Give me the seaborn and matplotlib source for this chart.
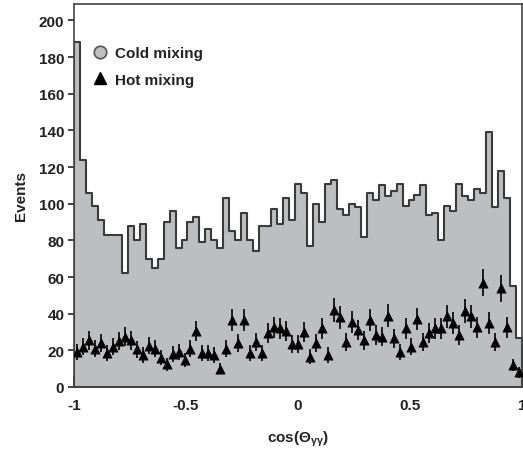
import numpy as np
import pandas as pd
import matplotlib
matplotlib.use("Agg")
import matplotlib.pyplot as plt
import seaborn as sns
from matplotlib.lines import Line2D

# ---- data ----
x_range = (-1.0, 1.0)
n_bins = 75
cold = [188, 124, 106, 99, 91, 83, 83, 83, 62, 88,
        80, 89, 70, 65, 70, 90, 96, 76, 80, 90,
        93, 79, 86, 80, 76, 103, 85, 80, 95, 80,
        74, 88, 88, 97, 89, 103, 91, 111, 106, 77,
        100, 90, 111, 113, 97, 94, 100, 98, 82, 106,
        102, 110, 104, 107, 111, 99, 102, 105, 110, 94,
        95, 80, 99, 96, 111, 104, 102, 108, 106, 139,
        98, 118, 103, 55, 27]
hot = [19, 22, 25.5, 21, 24, 18.5, 22, 25, 27.5, 25.5,
       20.5, 17.5, 22.5, 21, 16, 12.5, 18, 19, 14.5, 21,
       30.5, 18.5, 18.5, 17.5, 10, 21, 36.5, 24, 36.5, 18.5,
       24.5, 18.5, 29.5, 32.5, 32, 30.5, 23.5, 23.5, 30, 16.5,
       24, 32, 17.5, 42, 38, 24.5, 35.5, 31, 25.5, 36.5,
       28.5, 27.5, 39, 26.5, 19, 32, 22, 37, 24.5, 29.5,
       32, 32, 38.5, 35, 28.5, 41.5, 38.5, 32.5, 57, 35,
       24.5, 54, 32.5, 12, 8]
x_ticks = [-1, -0.5, 0, 0.5, 1]
x_tick_labels = ["-1", "-0.5", "0", "0.5", "1"]
x_minor_ticks = [-0.75, -0.25, 0.25, 0.75]
y_ticks = list(range(0, 201, 20))
series_labels = ["Cold mixing", "Hot mixing"]

# ---- style ----
sns.set_style("white")
plt.rcParams['font.family'] = ['Liberation Sans', 'DejaVu Sans']
plt.rcParams['font.weight'] = 'bold'
plt.rcParams['axes.labelweight'] = 'bold'
plt.rcParams['mathtext.fontset'] = 'custom'
plt.rcParams['mathtext.bf'] = 'Liberation Sans:bold'
plt.rcParams['mathtext.rm'] = 'Liberation Sans:bold'
plt.rcParams['mathtext.it'] = 'Liberation Sans:bold'
plt.rcParams['mathtext.default'] = 'bf'

fill_col = '#bdbec0'
edge_col = '#3a3a3a'
text_col = '#222222'
fs = 11

edges = np.linspace(x_range[0], x_range[1], n_bins + 1)
centers = (edges[:-1] + edges[1:]) / 2
df = pd.DataFrame({'cos': centers, 'cold': cold, 'hot': hot})

fig = plt.figure(figsize=(5.23, 4.52), dpi=100)
ax = fig.add_axes([74 / 523, 1 - 388 / 452, 448 / 523, 383 / 452])

sns.histplot(data=df, x='cos', weights='cold', bins=n_bins, binrange=x_range,
             element='step', fill=True, color=fill_col, edgecolor=edge_col,
             linewidth=1.5, alpha=1, ax=ax, zorder=1)

ax.errorbar(df['cos'], df['hot'], yerr=np.sqrt(df['hot']), fmt='none',
            ecolor='black', elinewidth=1.2, capsize=0, zorder=3)
sns.scatterplot(data=df, x='cos', y='hot', marker='^', color='black',
                s=44, edgecolor='black', linewidth=0.5, ax=ax, zorder=4)

ax.set_xlim(*x_range)
ax.set_ylim(0, 209)
ax.set_xticks(x_ticks, labels=x_tick_labels)
ax.set_xticks(x_minor_ticks, minor=True)
ax.set_yticks(y_ticks)
ax.tick_params(axis='x', which='major', direction='in', length=8, width=1.2,
               pad=8, labelsize=fs, colors=text_col, top=False, bottom=True)
ax.tick_params(axis='x', which='minor', direction='in', length=4.5, width=1.2,
               top=False, bottom=True)
ax.tick_params(axis='y', which='major', direction='out', length=4, width=1.2,
               pad=3, labelsize=fs, colors=text_col, left=True, right=False)
for lab in ax.get_xticklabels() + ax.get_yticklabels():
    lab.set_fontweight('bold')

for sp in ax.spines.values():
    sp.set_visible(True)
    sp.set_color('#444444')
    sp.set_linewidth(1.2)

ax.set_xlabel(r'cos($\Theta_{\gamma\gamma}$)', fontsize=fs, color=text_col,
              labelpad=12)
ax.set_ylabel('Events', fontsize=fs, color=text_col, labelpad=8)

handles = [
    Line2D([], [], marker='o', linestyle='none', markerfacecolor=fill_col,
           markeredgecolor='#555555', markeredgewidth=1.2, markersize=9,
           label=series_labels[0]),
    Line2D([], [], marker='^', linestyle='none', markerfacecolor='black',
           markeredgecolor='black', markersize=9, label=series_labels[1]),
]
leg = ax.legend(handles=handles, loc='upper left', bbox_to_anchor=(0.01, 0.926),
                frameon=False, handlelength=1.0, handletextpad=0.5,
                labelspacing=0.83, prop={'weight': 'bold', 'size': fs})
for t in leg.get_texts():
    t.set_color(text_col)

fig.savefig('out.png', dpi=100)
